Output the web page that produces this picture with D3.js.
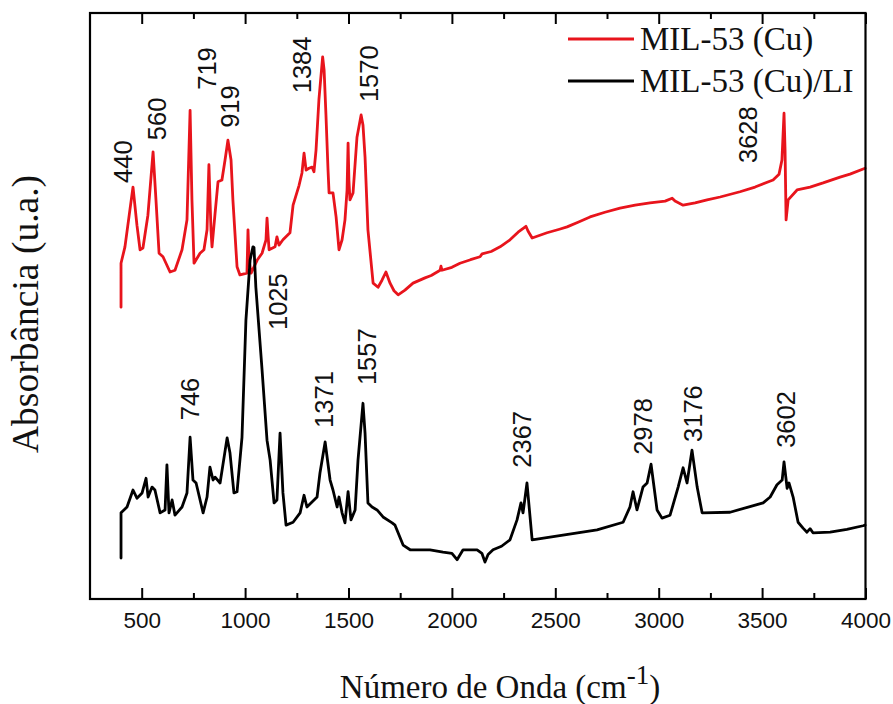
<!DOCTYPE html>
<html>
<head>
<meta charset="utf-8">
<script src="https://cdn.jsdelivr.net/npm/d3@7/dist/d3.min.js"></script>
<style>
  html, body { margin: 0; padding: 0; background: #fff; }
  svg { display: block; }
</style>
</head>
<body>
<svg id="chart" width="893" height="704"></svg>
<script>
// FTIR spectra: wavenumber (cm-1) and absorbance (arbitrary units, offset for display)
const seriesNames = ["MIL-53 (Cu)", "MIL-53 (Cu)/LI"];
const seriesColors = ["#e8141c", "#000000"];

const cuWavenumber = [400, 400, 419, 443, 458, 477, 492, 506, 530, 555, 569, 584, 603, 637, 661, 695, 719, 734, 743, 753, 782, 801, 816, 825, 835, 840, 854, 869, 888, 903, 917, 932, 941, 961, 975, 1009, 1014, 1019, 1029, 1058, 1082, 1101, 1106, 1111, 1116, 1145, 1154, 1164, 1183, 1217, 1232, 1261, 1275, 1285, 1295, 1309, 1324, 1333, 1343, 1357, 1375, 1382, 1391, 1401, 1406, 1425, 1440, 1454, 1469, 1483, 1493, 1498, 1502, 1507, 1522, 1541, 1561, 1570, 1580, 1594, 1619, 1643, 1662, 1681, 1701, 1720, 1740, 1773, 1812, 1870, 1900, 1943, 1947, 1952, 2000, 2039, 2090, 2136, 2146, 2190, 2233, 2281, 2320, 2358, 2368, 2388, 2460, 2520, 2557, 2610, 2668, 2740, 2813, 2886, 2958, 3031, 3065, 3079, 3118, 3176, 3234, 3297, 3393, 3466, 3553, 3582, 3596, 3606, 3611, 3616, 3626, 3669, 3732, 3795, 3877, 3925, 3998];
const cuAbsorbance = [49.8, 57.3, 60.1, 66.4, 70.3, 63.8, 59.6, 59.9, 65.5, 76.3, 68.1, 59.0, 58.4, 55.8, 56.1, 59.6, 64.7, 83.4, 68.1, 57.3, 59.0, 59.6, 63.0, 74.1, 63.0, 60.1, 65.5, 71.2, 71.5, 74.9, 78.3, 74.9, 68.1, 56.7, 55.3, 55.6, 63.0, 57.8, 55.6, 57.8, 59.0, 61.3, 65.0, 62.1, 59.6, 60.1, 61.8, 60.4, 61.3, 62.5, 67.2, 70.6, 72.7, 76.1, 73.2, 73.5, 73.7, 72.9, 76.6, 85.2, 92.5, 90.3, 82.6, 73.2, 69.3, 69.3, 65.2, 59.6, 61.3, 64.7, 69.8, 77.8, 71.5, 68.1, 69.3, 78.8, 82.6, 80.9, 75.4, 63.0, 53.9, 53.2, 54.4, 55.8, 53.9, 52.6, 51.9, 52.7, 53.9, 54.8, 55.2, 56.1, 56.8, 56.1, 56.6, 57.3, 57.9, 58.4, 58.9, 59.3, 60.1, 61.3, 62.6, 63.6, 62.8, 61.6, 62.5, 63.1, 63.5, 64.3, 65.2, 66.0, 66.7, 67.2, 67.6, 67.9, 68.4, 67.9, 67.2, 67.6, 68.1, 68.6, 69.5, 70.3, 71.5, 72.5, 74.9, 82.9, 76.6, 64.7, 68.1, 69.8, 70.3, 71.0, 72.0, 72.5, 73.5];

const liWavenumber = [400, 400, 429, 458, 477, 502, 521, 531, 550, 564, 589, 613, 622, 632, 647, 661, 695, 719, 734, 748, 763, 797, 816, 830, 845, 855, 879, 913, 927, 946, 961, 985, 1004, 1024, 1038, 1043, 1052, 1082, 1106, 1121, 1140, 1154, 1169, 1183, 1198, 1232, 1266, 1285, 1299, 1348, 1362, 1387, 1411, 1425, 1445, 1454, 1469, 1483, 1498, 1512, 1532, 1546, 1570, 1580, 1594, 1614, 1638, 1667, 1711, 1725, 1764, 1798, 1894, 1957, 2000, 2025, 2054, 2122, 2145, 2160, 2175, 2199, 2240, 2281, 2315, 2334, 2344, 2363, 2388, 2537, 2702, 2828, 2861, 2876, 2895, 2924, 2944, 2963, 2992, 3016, 3055, 3094, 3118, 3137, 3161, 3186, 3210, 3345, 3505, 3539, 3572, 3597, 3606, 3621, 3630, 3650, 3674, 3698, 3717, 3732, 3746, 3829, 3910, 3988, 3998];
const liAbsorbance = [7.0, 14.7, 15.7, 18.6, 17.2, 18.1, 20.6, 17.4, 19.1, 18.6, 14.7, 15.2, 22.9, 14.7, 16.9, 14.3, 15.7, 18.1, 27.6, 20.3, 19.8, 14.7, 17.4, 22.5, 20.3, 20.8, 19.8, 27.5, 24.9, 18.1, 18.3, 27.6, 47.6, 57.8, 60.1, 60.0, 53.2, 39.1, 27.1, 23.7, 16.4, 16.9, 28.3, 18.1, 12.6, 13.1, 14.7, 17.7, 15.7, 17.4, 21.5, 26.8, 20.3, 18.6, 15.7, 17.4, 14.7, 13.0, 18.3, 13.5, 15.2, 23.7, 33.4, 28.3, 16.4, 15.7, 15.2, 14.0, 13.0, 12.6, 9.2, 8.4, 8.4, 8.0, 7.8, 6.7, 8.4, 8.4, 7.8, 6.3, 7.6, 8.4, 9.0, 10.1, 13.5, 16.4, 14.7, 19.8, 10.1, 10.9, 11.8, 13.1, 15.7, 18.3, 15.2, 19.1, 19.8, 23.0, 15.2, 13.8, 14.3, 19.1, 22.4, 19.8, 25.4, 19.1, 14.7, 14.8, 16.4, 17.4, 19.5, 20.3, 23.4, 18.9, 19.8, 17.4, 13.1, 12.1, 11.4, 12.0, 11.3, 11.4, 11.9, 12.5, 12.6];

// Peak annotations: label text, wavenumber at the label, absorbance at the label's foot
const peakLabels = ["440", "560", "719", "919", "1384", "1570", "3628", "1025", "746", "1371", "1557", "2367", "2978", "3176", "3602"];
const peakLabelX = [410, 574, 816, 927, 1275, 1599, 3432, 1159, 734, 1382, 1590, 2339, 2924, 3166, 3616];
const peakLabelY = [71.0, 78.3, 86.9, 80.4, 86.3, 84.8, 74.4, 45.9, 30.5, 29.2, 36.5, 22.4, 24.6, 26.8, 25.8];

const majorTicks = [500, 1000, 1500, 2000, 2500, 3000, 3500, 4000];
const minorTicks = [750, 1250, 1750, 2250, 2750, 3250, 3750];

const svg = d3.select("#chart");
const plotLeft = 90, plotRight = 865.5, plotTop = 13, plotBottom = 599;

const x = d3.scaleLinear().domain([250, 4000]).range([plotLeft, plotRight]);
const y = d3.scaleLinear().domain([0, 100]).range([plotBottom, plotTop]);

const spectra = [
  d3.zip(cuWavenumber, cuAbsorbance),
  d3.zip(liWavenumber, liAbsorbance)
];

const line = d3.line().x(d => x(d[0])).y(d => y(d[1]));

// spectra
svg.append("g")
  .selectAll("path")
  .data(spectra)
  .join("path")
  .attr("d", line)
  .attr("fill", "none")
  .attr("stroke", (d, i) => seriesColors[i])
  .attr("stroke-width", 2.8)
  .attr("stroke-linejoin", "round")
  .attr("stroke-linecap", "round");

// axes: bottom with labels, top mirrored, ticks pointing inward
const axisStyle = g => {
  g.select(".domain").remove();
  g.selectAll(".tick line").attr("stroke", "#000").attr("stroke-width", 2);
};

svg.append("g")
  .attr("transform", `translate(0,${plotBottom})`)
  .call(d3.axisBottom(x).tickValues(majorTicks).tickSize(-11).tickPadding(13).tickFormat(d3.format("d")))
  .call(axisStyle)
  .call(g => g.selectAll(".tick text")
    .attr("font-family", "'Liberation Sans', Arial, sans-serif")
    .attr("font-size", 22.5)
    .attr("fill", "#111"));

svg.append("g")
  .attr("transform", `translate(0,${plotBottom})`)
  .call(d3.axisBottom(x).tickValues(minorTicks).tickSize(-6).tickFormat(""))
  .call(axisStyle);

svg.append("g")
  .attr("transform", `translate(0,${plotTop})`)
  .call(d3.axisTop(x).tickValues(majorTicks).tickSize(-11).tickFormat(""))
  .call(axisStyle);

svg.append("g")
  .attr("transform", `translate(0,${plotTop})`)
  .call(d3.axisTop(x).tickValues(minorTicks).tickSize(-6).tickFormat(""))
  .call(axisStyle);

// plot frame
svg.append("rect")
  .attr("x", plotLeft).attr("y", plotTop)
  .attr("width", plotRight - plotLeft).attr("height", plotBottom - plotTop)
  .attr("fill", "none")
  .attr("stroke", "#000")
  .attr("stroke-width", 2.2);

// peak labels, rotated
svg.append("g")
  .selectAll("text")
  .data(peakLabels)
  .join("text")
  .attr("transform", (d, i) => `translate(${x(peakLabelX[i])},${y(peakLabelY[i])}) rotate(-90)`)
  .attr("dy", "0.36em")
  .attr("font-family", "'Liberation Sans', Arial, sans-serif")
  .attr("font-size", 25.5)
  .attr("fill", "#111")
  .text(d => d);

// axis titles
svg.append("text")
  .attr("transform", "translate(38,314) rotate(-90)")
  .attr("text-anchor", "middle")
  .attr("font-family", "'Liberation Serif', 'Times New Roman', serif")
  .attr("font-size", 37.5)
  .attr("fill", "#111")
  .text("Absorbância (u.a.)");

const xTitle = svg.append("text")
  .attr("x", 500).attr("y", 698)
  .attr("text-anchor", "middle")
  .attr("font-family", "'Liberation Serif', 'Times New Roman', serif")
  .attr("font-size", 33)
  .attr("fill", "#111");
xTitle.append("tspan").text("Número de Onda (cm");
xTitle.append("tspan").attr("font-size", 27).attr("dy", -14).text("-1");
xTitle.append("tspan").attr("dy", 14).text(")");

// legend
const legend = svg.append("g")
  .selectAll("g")
  .data(seriesNames)
  .join("g")
  .attr("transform", (d, i) => `translate(568,${39 + i * 42})`);
legend.append("line")
  .attr("x1", 0).attr("x2", 66)
  .attr("stroke", (d, i) => seriesColors[i])
  .attr("stroke-width", 3);
legend.append("text")
  .attr("x", 72).attr("dy", "0.33em")
  .attr("font-family", "'Liberation Serif', 'Times New Roman', serif")
  .attr("font-size", 33)
  .attr("fill", "#111")
  .text(d => d);
</script>
</body>
</html>
